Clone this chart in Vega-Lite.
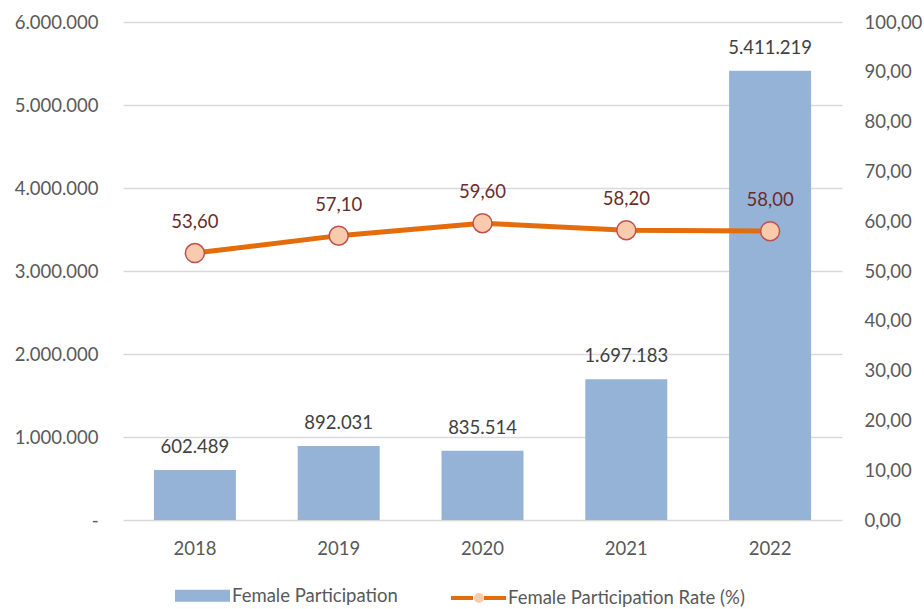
{
  "$schema": "https://vega.github.io/schema/vega-lite/v6.json",
  "width": 719,
  "height": 498,
  "autosize": {"type": "none"},
  "padding": {"left": 123, "top": 22, "right": 82, "bottom": 89},
  "background": "white",
  "config": {
    "locale": {"number": {"decimal": ",", "thousands": ".", "grouping": [3], "currency": ["", ""]}},
    "font": "Lato",
    "view": {"stroke": null},
    "axis": {"labelFont": "Lato", "labelFontSize": 18.5, "labelColor": "#595959", "ticks": false, "domain": false, "title": null}
  },
  "data": {
    "values": [
      {"year": "2018", "participation": 602489, "rate": 53.6},
      {"year": "2019", "participation": 892031, "rate": 57.1},
      {"year": "2020", "participation": 835514, "rate": 59.6},
      {"year": "2021", "participation": 1697183, "rate": 58.2},
      {"year": "2022", "participation": 5411219, "rate": 58.0}
    ]
  },
  "encoding": {
    "x": {
      "field": "year", "type": "ordinal",
      "scale": {"paddingInner": 0.43, "paddingOuter": 0.215},
      "axis": {"labelAngle": 0, "labelPadding": 19, "grid": false}
    }
  },
  "layer": [
    {
      "encoding": {
        "y": {
          "field": "participation", "type": "quantitative",
          "scale": {"domain": [0, 6000000], "nice": false},
          "axis": {
            "orient": "left",
            "values": [0, 1000000, 2000000, 3000000, 4000000, 5000000, 6000000],
            "labelExpr": "datum.value == 0 ? '-' : format(datum.value, ',d')",
            "labelPadding": 25,
            "grid": true, "gridColor": "#d9d9d9", "gridWidth": 1.5
          }
        }
      },
      "layer": [
        {
          "mark": {"type": "bar"},
          "encoding": {
            "color": {
              "datum": "Female Participation", "type": "nominal",
              "scale": {"domain": ["Female Participation", "Female Participation Rate (%)"], "range": ["#95b3d7", "#e46c0a"]},
              "legend": {
                "orient": "none", "direction": "horizontal", "title": null,
                "legendX": 50, "legendY": 544,
                "labelFont": "Lato", "labelFontSize": 18.5, "labelColor": "#595959",
                "labelLimit": 400,
                "symbolSize": 3025, "labelOffset": 0, "columnPadding": 45,
                "encode": {
                  "symbols": {
                    "update": {
                      "shape": {"signal": "datum.value == 'Female Participation' ? 'M-1,-0.22H1V0.22H-1Z' : 'M-1,0H-0.2M0.2,0H1'"},
                      "stroke": {"signal": "datum.value == 'Female Participation' ? 'transparent' : '#e46c0a'"},
                      "strokeWidth": {"value": 4},
                      "opacity": {"value": 1},
                      "fillOpacity": {"value": 1},
                      "strokeOpacity": {"value": 1}
                    }
                  }
                }
              }
            }
          }
        },
        {
          "mark": {"type": "text", "baseline": "middle", "dy": -23, "fontSize": 18.5, "color": "#404040", "font": "Lato"},
          "encoding": {
            "text": {"field": "participation", "type": "quantitative", "format": ",d"}
          }
        }
      ]
    },
    {
      "encoding": {
        "y": {
          "field": "rate", "type": "quantitative",
          "scale": {"domain": [0, 100], "nice": false},
          "axis": {
            "orient": "right",
            "values": [0, 10, 20, 30, 40, 50, 60, 70, 80, 90, 100],
            "format": ".2f",
            "labelPadding": 22,
            "grid": false
          }
        }
      },
      "layer": [
        {
          "mark": {"type": "line", "strokeWidth": 5, "strokeCap": "round", "color": "#e46c0a"},
          "encoding": {}
        },
        {
          "mark": {"type": "point", "filled": true, "size": 360, "fill": "#f8cbad", "fillOpacity": 1, "stroke": "#c0504d", "strokeWidth": 1.5, "opacity": 1},
          "encoding": {
            "shape": {
              "datum": "Female Participation Rate (%)", "type": "nominal",
              "scale": {"range": ["circle"]},
              "legend": {
                "orient": "none", "title": null,
                "legendX": 350, "legendY": 570,
                "symbolSize": 100, "symbolStrokeWidth": 1.5,
                "symbolFillColor": "#f8cbad", "symbolStrokeColor": "#c0504d",
                "labelFontSize": 1, "labelOpacity": 0, "labelOffset": 0,
                "padding": 0
              }
            }
          }
        },
        {
          "mark": {"type": "text", "baseline": "middle", "dy": -31, "fontSize": 18.5, "color": "#6b2b2b", "font": "Lato"},
          "encoding": {
            "text": {"field": "rate", "type": "quantitative", "format": ".2f"}
          }
        }
      ]
    }
  ],
  "resolve": {"scale": {"y": "independent"}}
}
